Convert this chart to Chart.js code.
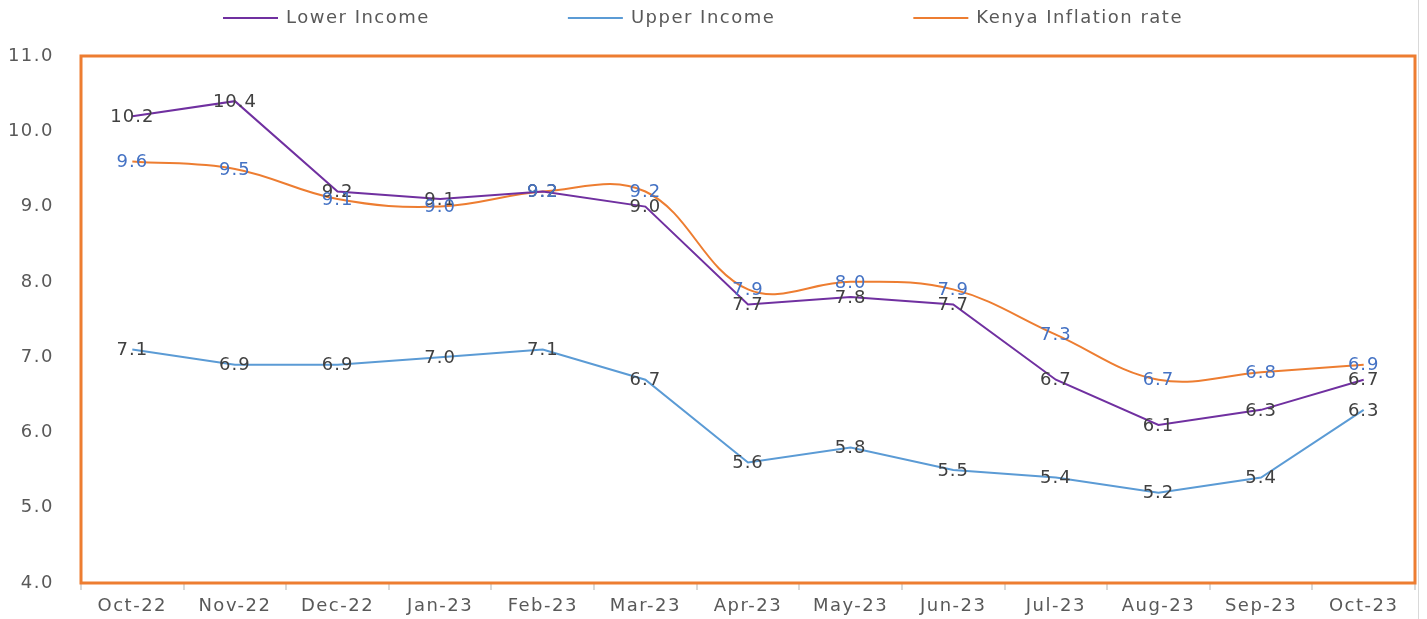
<!DOCTYPE html>
<html lang="en">
<head>
    <meta charset="UTF-8">
    <title>Inflation by income group</title>
    <script src="https://cdn.jsdelivr.net/npm/chart.js"></script>
    <style>
        body {
            margin: 0;
            background: #fff;
        }

        .chart-container {
            width: 1427px;
            height: 619px;
        }
    </style>
</head>
<body>
<div class="chart-container">
    <canvas id="chart1"></canvas>
</div>

<script>
    // Данные графика
    const months = ['Oct-22', 'Nov-22', 'Dec-22', 'Jan-23', 'Feb-23', 'Mar-23', 'Apr-23',
        'May-23', 'Jun-23', 'Jul-23', 'Aug-23', 'Sep-23', 'Oct-23'];
    const lowerIncome = [10.2, 10.4, 9.2, 9.1, 9.2, 9.0, 7.7, 7.8, 7.7, 6.7, 6.1, 6.3, 6.7];
    const upperIncome = [7.1, 6.9, 6.9, 7.0, 7.1, 6.7, 5.6, 5.8, 5.5, 5.4, 5.2, 5.4, 6.3];
    const kenyaInflation = [9.6, 9.5, 9.1, 9.0, 9.2, 9.2, 7.9, 8.0, 7.9, 7.3, 6.7, 6.8, 6.9];
    const seriesNames = ['Lower Income', 'Upper Income', 'Kenya Inflation rate'];
    const yTicks = [4, 5, 6, 7, 8, 9, 10, 11];

    const FONT = 'DejaVu Sans';
    const SPACING = '1.5px';
    const labelColors = ['#404040', '#404040', '#4472C4'];

    // Межбуквенный интервал (текст в оригинале растянут по ширине)
    const spacingPlugin = {
        id: 'spacing',
        beforeLayout(chart) { chart.ctx.letterSpacing = SPACING; },
        beforeDraw(chart) { chart.ctx.letterSpacing = SPACING; }
    };

    // Оранжевая рамка области построения
    const framePlugin = {
        id: 'frame',
        beforeDatasetsDraw(chart) {
            const {ctx, chartArea: a} = chart;
            ctx.save();
            ctx.strokeStyle = '#ED7D31';
            ctx.lineWidth = 3;
            ctx.strokeRect(a.left, a.top, a.right - a.left, a.bottom - a.top);
            // серая граница справа
            ctx.strokeStyle = '#d9d9d9';
            ctx.lineWidth = 1;
            ctx.beginPath();
            ctx.moveTo(1418.5, 0);
            ctx.lineTo(1418.5, chart.height);
            ctx.stroke();
            ctx.restore();
        }
    };

    // Подписи значений по центру точек
    const valuesPlugin = {
        id: 'values',
        afterDatasetsDraw(chart) {
            const ctx = chart.ctx;
            ctx.save();
            ctx.letterSpacing = '1px';
            ctx.font = `18px "${FONT}"`;
            ctx.textAlign = 'center';
            ctx.textBaseline = 'middle';
            chart.data.datasets.forEach((ds, i) => {
                const meta = chart.getDatasetMeta(i);
                ctx.fillStyle = labelColors[i];
                meta.data.forEach((pt, j) => {
                    ctx.fillText(ds.data[j].toFixed(1), pt.x, pt.y + 1);
                });
            });
            ctx.restore();
        }
    };

    // Легенда сверху
    const legendPlugin = {
        id: 'topLegend',
        afterDraw(chart) {
            const ctx = chart.ctx;
            ctx.save();
            ctx.letterSpacing = SPACING;
            ctx.font = `18px "${FONT}"`;
            ctx.textAlign = 'left';
            ctx.textBaseline = 'middle';
            let x = 223;
            const y = 18;
            chart.data.datasets.forEach(ds => {
                ctx.strokeStyle = ds.borderColor;
                ctx.lineWidth = 2;
                ctx.beginPath();
                ctx.moveTo(x, y);
                ctx.lineTo(x + 55, y);
                ctx.stroke();
                ctx.fillStyle = '#595959';
                ctx.fillText(ds.label, x + 63, y);
                x += 63 + ctx.measureText(ds.label).width + 138;
            });
            ctx.restore();
        }
    };

    const ctx = document.getElementById('chart1').getContext('2d');
    const chart = new Chart(ctx, {
        type: 'line',
        data: {
            labels: months,
            datasets: [
                {
                    label: seriesNames[0],
                    data: lowerIncome,
                    borderColor: '#7030A0',
                    backgroundColor: '#7030A0',
                    borderWidth: 2,
                    pointRadius: 0,
                    tension: 0,
                    fill: false
                },
                {
                    label: seriesNames[1],
                    data: upperIncome,
                    borderColor: '#5B9BD5',
                    backgroundColor: '#5B9BD5',
                    borderWidth: 2,
                    pointRadius: 0,
                    tension: 0,
                    fill: false
                },
                {
                    label: seriesNames[2],
                    data: kenyaInflation,
                    borderColor: '#ED7D31',
                    backgroundColor: '#ED7D31',
                    borderWidth: 2,
                    pointRadius: 0,
                    tension: 0.38,
                    fill: false
                }
            ]
        },
        options: {
            responsive: true,
            maintainAspectRatio: false,
            animation: false,
            layout: {
                padding: {top: 56, right: 12, bottom: 0, left: 0}
            },
            plugins: {
                legend: {display: false},
                tooltip: {enabled: false}
            },
            scales: {
                x: {
                    offset: true,
                    afterFit(scale) {
                        scale.height = 36;
                    },
                    grid: {
                        offset: true,
                        drawOnChartArea: false,
                        drawTicks: true,
                        tickLength: 7,
                        color: '#d9d9d9',
                        lineWidth: 2
                    },
                    border: {display: false},
                    ticks: {
                        color: '#595959',
                        padding: 6,
                        maxRotation: 0,
                        autoSkip: false,
                        font: {family: FONT, size: 18}
                    }
                },
                y: {
                    min: yTicks[0],
                    max: yTicks[yTicks.length - 1],
                    afterBuildTicks(scale) {
                        scale.ticks = yTicks.map(v => ({value: v}));
                    },
                    afterFit(scale) {
                        scale.width = 81;
                    },
                    // отступ подписей задаём длиной (невидимых) засечек
                    grid: {display: false, drawTicks: true, tickLength: 25},
                    border: {display: false},
                    ticks: {
                        color: '#595959',
                        padding: 2,
                        font: {family: FONT, size: 18},
                        callback: v => Number(v).toFixed(1)
                    }
                }
            }
        },
        plugins: [spacingPlugin, framePlugin, valuesPlugin, legendPlugin]
    });
</script>

</body>
</html>
